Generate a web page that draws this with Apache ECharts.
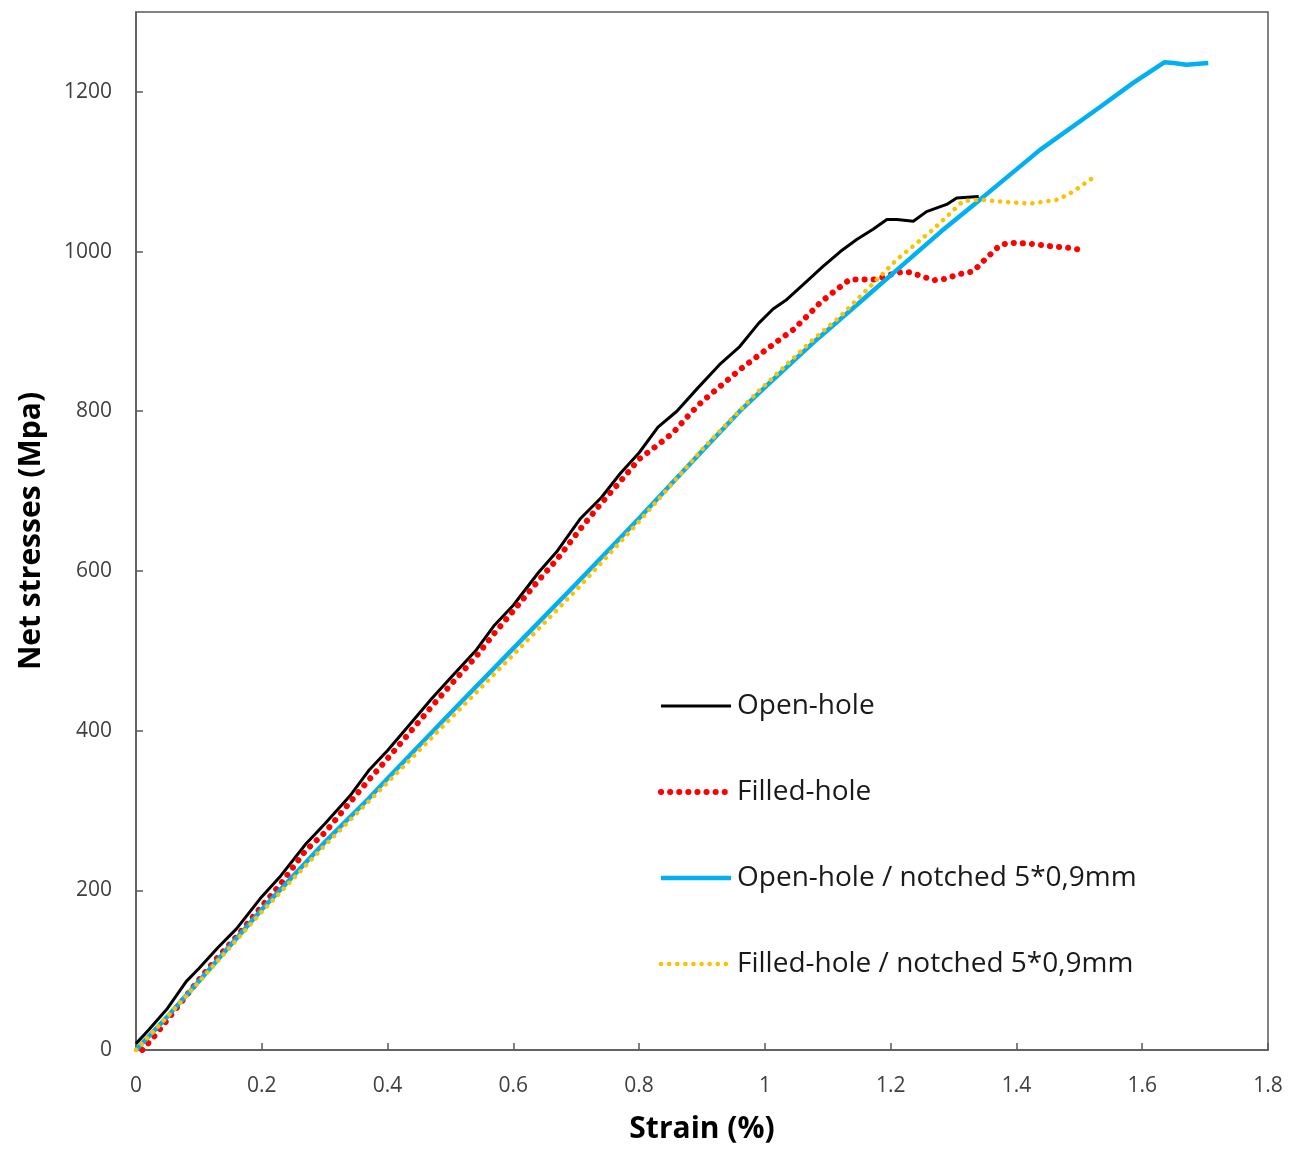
<!DOCTYPE html>
<html>
<head>
<meta charset="utf-8">
<script src="https://cdn.jsdelivr.net/npm/echarts@6/dist/echarts.min.js"></script>
<style>
html,body{margin:0;padding:0;background:#fff;}
#chart{width:1306px;height:1149px;}
</style>
</head>
<body>
<div id="chart"></div>
<script>
const seriesNames = ['Open-hole', 'Filled-hole', 'Open-hole / notched 5*0,9mm', 'Filled-hole / notched 5*0,9mm'];
const xTicks = [0, 0.2, 0.4, 0.6, 0.8, 1, 1.2, 1.4, 1.6, 1.8];
const yTicks = [0, 200, 400, 600, 800, 1000, 1200];

const openHole = [
  [0,8],[0.02,25],[0.05,52],[0.08,86],[0.1,102],[0.13,128],[0.16,152],[0.2,192],[0.23,218],[0.27,258],
  [0.3,283],[0.34,318],[0.37,350],[0.4,375],[0.44,412],[0.47,440],[0.5,466],[0.54,500],[0.57,532],
  [0.6,557],[0.64,598],[0.67,625],[0.706,665],[0.74,692],[0.77,722],[0.8,748],[0.83,780],[0.86,800],
  [0.892,828],[0.93,860],[0.96,881],[0.99,910],[1.013,928],[1.035,940],[1.06,958],[1.092,981],
  [1.12,1000],[1.146,1015],[1.172,1028],[1.194,1040],[1.21,1040],[1.236,1038],[1.257,1050],
  [1.289,1059],[1.305,1067],[1.34,1069]
];
const filledHole = [
  [0.01,0],[0.03,18],[0.05,38],[0.08,68],[0.1,88],[0.13,116],[0.16,142],[0.2,180],[0.23,208],[0.27,250],
  [0.3,272],[0.34,310],[0.37,338],[0.4,365],[0.44,402],[0.47,430],[0.5,457],[0.54,492],[0.57,522],
  [0.6,550],[0.64,588],[0.67,615],[0.706,652],[0.74,685],[0.77,712],[0.8,740],[0.83,758],[0.854,773],
  [0.88,796],[0.9,812],[0.93,832],[0.96,852],[0.99,870],[1.024,890],[1.045,902],[1.067,919],
  [1.088,936],[1.11,950],[1.135,965],[1.156,965],[1.178,965],[1.194,970],[1.215,974],[1.231,974],
  [1.25,969],[1.268,964],[1.289,966],[1.305,971],[1.331,975],[1.35,990],[1.374,1008],[1.39,1011],
  [1.42,1010],[1.45,1007],[1.48,1005],[1.504,1002]
];
const openHoleNotched = [
  [0,0],[0.05,42],[0.1,86],[0.2,176],[0.3,260],[0.37,315],[0.4,340],[0.5,422],[0.6,503],[0.7,584],
  [0.8,666],[0.9,750],[0.96,800],[1.0,830],[1.077,886],[1.162,944],[1.21,977],[1.28,1025],[1.342,1065],
  [1.437,1127],[1.533,1181],[1.585,1211],[1.635,1237],[1.65,1236],[1.67,1234],[1.705,1236]
];
const filledHoleNotched = [
  [0,0],[0.05,42],[0.1,85],[0.2,173],[0.3,256],[0.4,335],[0.5,415],[0.6,495],[0.7,576],[0.8,662],
  [0.9,752],[0.987,823],[1.077,890],[1.119,918],[1.162,952],[1.21,990],[1.268,1028],[1.315,1063],
  [1.342,1065],[1.382,1062],[1.422,1060],[1.466,1065],[1.49,1075],[1.528,1096]
];

const chart = echarts.init(document.getElementById('chart'));
const axisColor = '#595959';
const labelFont = 'Open Sans, Liberation Sans, sans-serif';
const styles = [
  { color: '#000000', width: 3, type: 'solid' },
  { color: '#FF0000', width: 6, type: [0.1, 9], cap: 'round' },
  { color: '#00B0F0', width: 4.5, type: 'solid' },
  { color: '#FFC000', width: 4.5, type: [0.1, 8], cap: 'round' }
];
const dataSets = [openHole, filledHole, openHoleNotched, filledHoleNotched];

chart.setOption({
  backgroundColor: '#ffffff',
  animation: false,
  grid: { left: 136, right: 38, top: 12, bottom: 97, show: true, borderColor: axisColor, borderWidth: 1.5, backgroundColor: 'transparent' },
  legend: {
    orient: 'vertical', left: 653, top: 687, itemGap: 58, itemWidth: 70, itemHeight: 14,
    itemStyle: { opacity: 0 },
    data: seriesNames.map((n, i) => ({ name: n, lineStyle: Object.assign({}, styles[i]) , itemStyle: { opacity: 0 } })),
    textStyle: { fontFamily: labelFont, fontSize: 28, color: '#1a1a1a', padding: [0,0,0,1] }
  },
  xAxis: {
    type: 'value', min: 0, max: 1.8, interval: 0.2,
    axisLine: { show: true, lineStyle: { color: axisColor, width: 1.5 } },
    axisTick: { show: true, inside: true, length: 7, lineStyle: { color: axisColor, width: 1.5 } },
    axisLabel: { fontFamily: labelFont, fontSize: 21, color: '#404040', margin: 26 },
    splitLine: { show: false },
    name: 'Strain (%)', nameLocation: 'middle', nameGap: 64,
    nameTextStyle: { fontFamily: labelFont, fontSize: 30, fontWeight: 'bold', color: '#000' }
  },
  yAxis: {
    type: 'value', min: 0, max: 1300, interval: 200,
    axisLine: { show: true, lineStyle: { color: axisColor, width: 1.5 } },
    axisTick: { show: true, inside: true, length: 7, lineStyle: { color: axisColor, width: 1.5 } },
    axisLabel: { fontFamily: labelFont, fontSize: 21, color: '#404040', margin: 24, showMaxLabel: false,
      formatter: v => (yTicks.indexOf(v) >= 0 ? String(v) : '') },
    splitLine: { show: false },
    name: 'Net stresses (Mpa)', nameLocation: 'middle', nameGap: 90,
    nameTextStyle: { fontFamily: labelFont, fontSize: 30, fontWeight: 'bold', color: '#000' }
  },
  series: seriesNames.map((n, i) => ({
    name: n, type: 'line', data: dataSets[i], showSymbol: false, symbol: 'none',
    lineStyle: styles[i], itemStyle: { color: styles[i].color }
  }))
});
</script>
</body>
</html>
